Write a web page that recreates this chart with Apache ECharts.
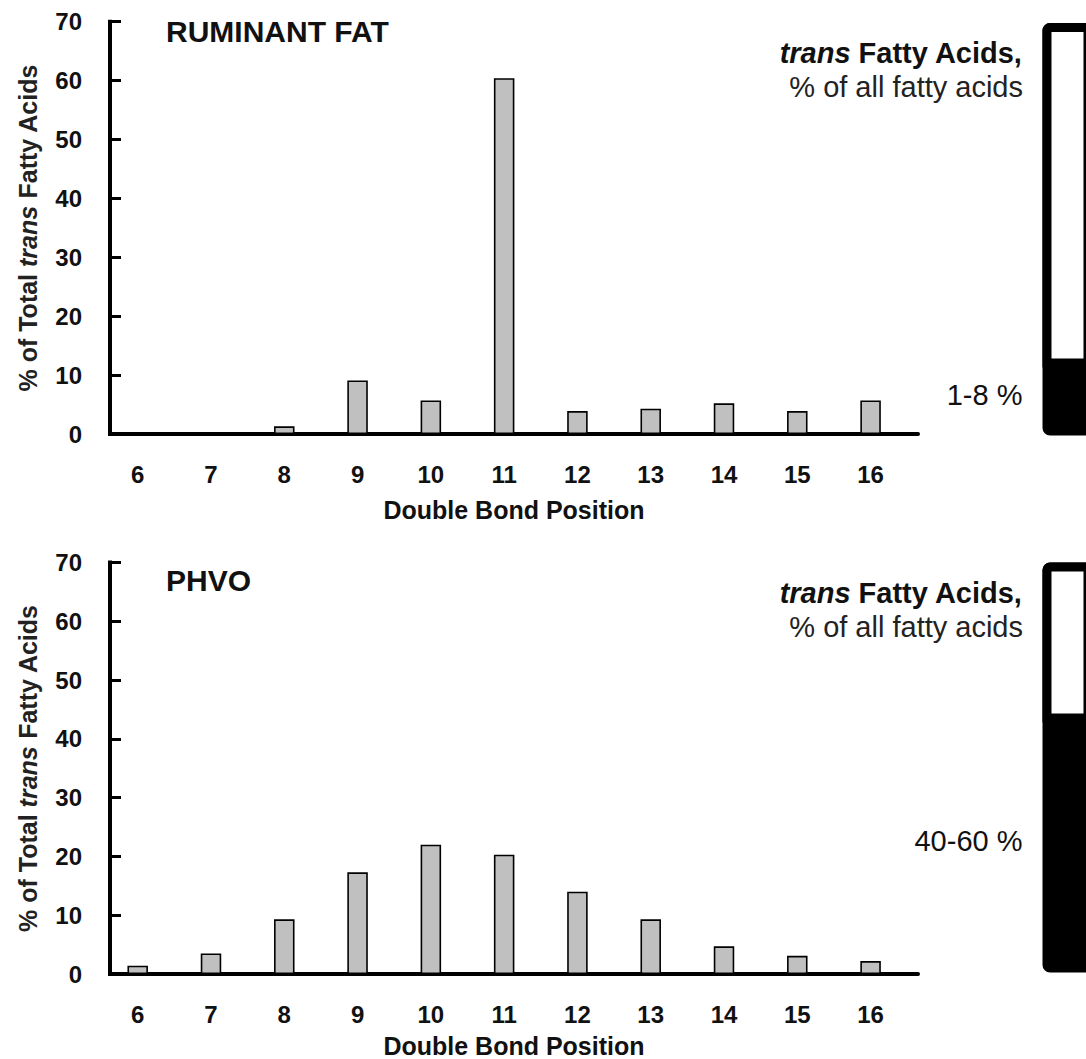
<!DOCTYPE html>
<html><head><meta charset="utf-8">
<script src="https://cdn.jsdelivr.net/npm/echarts@6/dist/echarts.min.js"></script>
<style>html,body{margin:0;padding:0;background:#fff}#c{width:1086px;height:1059px}</style>
</head><body><div id="c"></div>
<script>
// ---- data ----
const positions = [6, 7, 8, 9, 10, 11, 12, 13, 14, 15, 16];
const ruminantFat = [0, 0, 1.3, 9.1, 5.7, 60.4, 3.9, 4.3, 5.2, 3.9, 5.7];
const phvo = [1.4, 3.5, 9.3, 17.3, 22.0, 20.3, 14.0, 9.3, 4.7, 3.1, 2.2];
const yTicks = [0, 10, 20, 30, 40, 50, 60, 70];
const panelTitles = ['RUMINANT FAT', 'PHVO'];
const transRangeLabels = ['1-8 %', '40-60 %'];
const transBoxShare = [16.5, 61];   // black (trans) part of the schematic column, %

const FONT = 'Liberation Sans, Arial, Helvetica, sans-serif';
const chart = echarts.init(document.getElementById('c'), null, {renderer: 'svg'});

const mainGrids = [
  {left: 110, top: 21.7, width: 808, height: 412.3},
  {left: 110, top: 562.5, width: 808, height: 412}
];
const boxGrids = [
  {left: 1042.5, top: 23, width: 200, height: 412.5},
  {left: 1042.5, top: 562.5, width: 200, height: 410}
];

function mainX(gi, gap) {
  return {
    type: 'value', gridIndex: gi, min: 5.622, max: 16.647,
    axisLine: {show: true, onZero: false, lineStyle: {color: '#000', width: 4}},
    axisTick: {show: false}, splitLine: {show: false},
    axisLabel: {customValues: positions, margin: 28, fontSize: 24, fontWeight: 'bold', color: '#111', fontFamily: FONT},
    name: 'Double Bond Position', nameLocation: 'middle', nameGap: gap,
    nameTextStyle: {fontSize: 25, fontWeight: 'bold', color: '#111', fontFamily: FONT}
  };
}
function mainY(gi) {
  return {
    type: 'value', gridIndex: gi, min: yTicks[0], max: yTicks[yTicks.length - 1], interval: yTicks[1] - yTicks[0],
    axisLine: {show: true, onZero: false, lineStyle: {color: '#000', width: 4, cap: 'square'}},
    axisTick: {show: true, inside: true, length: 11, lineStyle: {color: '#000', width: 3}},
    splitLine: {show: false},
    axisLabel: {margin: 28, fontSize: 24, fontWeight: 'bold', color: '#111', fontFamily: FONT},
    name: '{a|% of Total }{i|trans}{a| Fatty Acids}', nameLocation: 'middle', nameGap: 70,
    nameTextStyle: {
      color: '#222', fontFamily: FONT,
      rich: {
        a: {fontSize: 25, fontWeight: 'bold', color: '#222', fontFamily: FONT},
        i: {fontSize: 25, fontWeight: 'bold', fontStyle: 'italic', color: '#222', fontFamily: FONT}
      }
    }
  };
}
function boxX(gi) { return {type: 'category', gridIndex: gi, data: ['trans'], show: false}; }
function boxY(gi) { return {type: 'value', gridIndex: gi, min: 0, max: 100, show: false}; }

function mainSeries(idx, values) {
  return {
    type: 'bar', xAxisIndex: idx, yAxisIndex: idx, silent: true,
    data: positions.map((p, i) => [p, values[i]]),
    barWidth: 20.5,
    itemStyle: {color: '#c0c0c0', borderColor: '#000', borderWidth: 1.6}
  };
}
function boxSeries(idx, k) {
  return [
    { // whole column: black frame + black (trans) fill
      type: 'bar', xAxisIndex: idx, yAxisIndex: idx, silent: true,
      barWidth: '100%', barGap: '-100%', data: [100], z: 2,
      itemStyle: {color: '#000', borderColor: '#000', borderWidth: 9, borderRadius: 3}
    },
    { // trans share: transparent spacer carrying the label
      type: 'bar', xAxisIndex: idx, yAxisIndex: idx, silent: true, stack: 'w' + k,
      barWidth: '100%', barGap: '-100%', data: [transBoxShare[k]], z: 3,
      itemStyle: {color: 'rgba(0,0,0,0)', borderWidth: 0},
      label: {show: true, position: 'left', distance: 20, offset: [0, -6], formatter: transRangeLabels[k],
        fontSize: 29, color: '#111', fontFamily: FONT}
    },
    { // non-trans share: white inside the frame
      type: 'bar', xAxisIndex: idx, yAxisIndex: idx, silent: true, stack: 'w' + k,
      barWidth: '100%', barGap: '-100%', data: [100 - transBoxShare[k]], z: 3,
      itemStyle: {color: '#fff', borderColor: '#000', borderWidth: 9, borderRadius: [3, 3, 0, 0]}
    }
  ];
}

function rightTitles(dy) {
  return [
    {text: '{i|trans}{b| Fatty Acids,}', right: 63, top: 38 + dy, padding: 0,
      textStyle: {rich: {
        i: {fontSize: 29, fontWeight: 'bold', fontStyle: 'italic', color: '#111', fontFamily: FONT},
        b: {fontSize: 29, fontWeight: 'bold', color: '#111', fontFamily: FONT}
      }}},
    {text: '% of all fatty acids', right: 63, top: 72.5 + dy, padding: 0,
      textStyle: {fontSize: 29, fontWeight: 'normal', color: '#222', fontFamily: FONT}}
  ];
}

const option = {
  backgroundColor: '#fff',
  animation: false,
  title: [
    {text: panelTitles[0], left: 166, top: 16, padding: 0, textStyle: {fontSize: 30, fontWeight: 'bold', color: '#111', fontFamily: FONT}},
    {text: panelTitles[1], left: 166, top: 565.5, padding: 0, textStyle: {fontSize: 30, fontWeight: 'bold', color: '#111', fontFamily: FONT}},
    ...rightTitles(0), ...rightTitles(540)
  ],
  grid: [mainGrids[0], boxGrids[0], mainGrids[1], boxGrids[1]],
  xAxis: [mainX(0, 63), boxX(1), mainX(2, 59), boxX(3)],
  yAxis: [mainY(0), boxY(1), mainY(2), boxY(3)],
  series: [
    mainSeries(0, ruminantFat),
    ...boxSeries(1, 0),
    mainSeries(2, phvo),
    ...boxSeries(3, 1)
  ]
};
chart.setOption(option);
</script>
</body></html>
